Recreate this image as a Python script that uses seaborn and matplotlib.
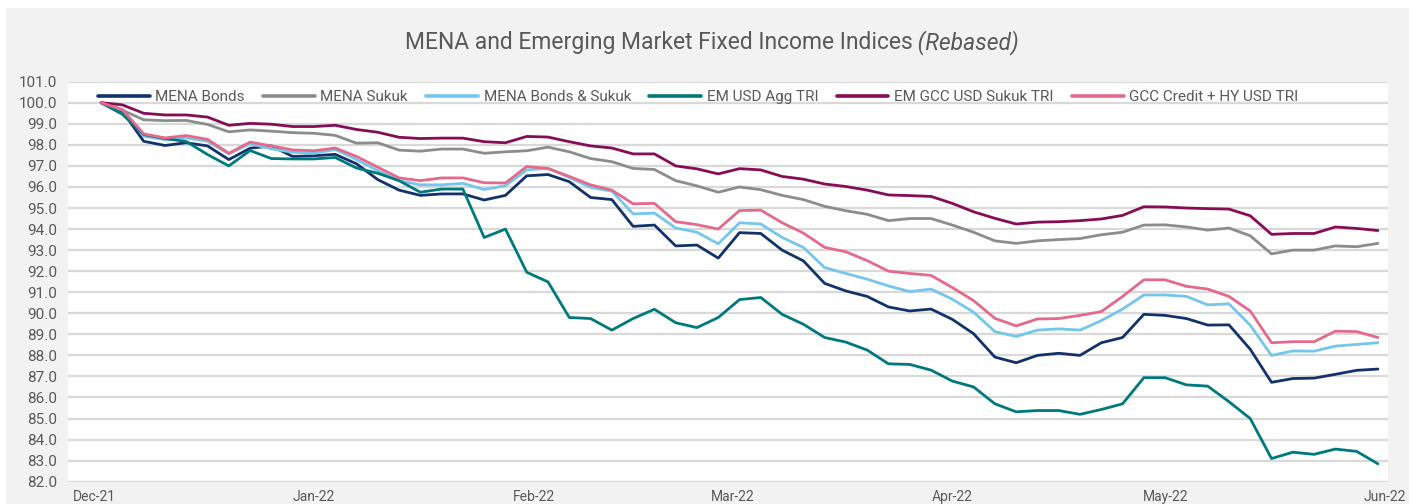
import numpy as np
import pandas as pd
import matplotlib
matplotlib.use("Agg")
import matplotlib.pyplot as plt
import matplotlib.dates as mdates
from matplotlib.lines import Line2D
from matplotlib.patches import Rectangle
import seaborn as sns

# ------------------------------------------------------------
# Data (rebased to 100, every third day)
# ------------------------------------------------------------
dates = pd.date_range("2021-12-02", "2022-05-31", freq="3D")

series_names = ["MENA Bonds", "MENA Sukuk", "MENA Bonds & Sukuk",
                "EM USD Agg TRI", "EM GCC USD Sukuk TRI", "GCC Credit + HY USD TRI"]

mena_bonds = [100.0, 99.6, 98.17, 97.97, 98.1, 97.95, 97.3, 97.84, 97.95, 97.45,
              97.48, 97.55, 97.1, 96.35, 95.85, 95.6, 95.67, 95.67, 95.38, 95.6,
              96.53, 96.59, 96.25, 95.5, 95.4, 94.13, 94.19, 93.2, 93.24, 92.62,
              93.83, 93.79, 93.0, 92.49, 91.42, 91.06, 90.8, 90.3, 90.11, 90.2,
              89.71, 89.03, 87.92, 87.65, 88.0, 88.1, 88.0, 88.6, 88.85, 89.95,
              89.9, 89.75, 89.44, 89.45, 88.29, 86.72, 86.9, 86.92, 87.1, 87.29,
              87.35]

mena_sukuk = [100.0, 99.65, 99.19, 99.15, 99.16, 98.97, 98.62, 98.71, 98.65, 98.58,
              98.55, 98.45, 98.08, 98.1, 97.75, 97.7, 97.8, 97.8, 97.6, 97.67,
              97.72, 97.89, 97.67, 97.35, 97.2, 96.88, 96.83, 96.3, 96.05, 95.75,
              96.0, 95.87, 95.6, 95.4, 95.08, 94.87, 94.7, 94.4, 94.5, 94.5,
              94.19, 93.85, 93.44, 93.32, 93.44, 93.5, 93.55, 93.73, 93.85, 94.19,
              94.2, 94.1, 93.95, 94.05, 93.68, 92.82, 93.0, 93.0, 93.2, 93.16,
              93.32]

mena_bonds_sukuk = [100.0, 99.66, 98.41, 98.25, 98.33, 98.17, 97.57, 98.05, 97.81, 97.65,
                    97.6, 97.78, 97.3, 96.78, 96.3, 96.1, 96.1, 96.17, 95.88, 96.06,
                    96.81, 96.88, 96.45, 95.98, 95.8, 94.72, 94.76, 94.05, 93.85, 93.3,
                    94.3, 94.24, 93.6, 93.13, 92.17, 91.89, 91.62, 91.3, 91.03, 91.15,
                    90.67, 90.05, 89.13, 88.9, 89.2, 89.26, 89.2, 89.65, 90.2, 90.87,
                    90.87, 90.8, 90.4, 90.45, 89.43, 88.0, 88.21, 88.2, 88.44, 88.52,
                    88.6]

em_usd_agg = [100.0, 99.45, 98.49, 98.3, 98.16, 97.54, 97.0, 97.73, 97.35, 97.33,
              97.33, 97.4, 96.9, 96.65, 96.3, 95.75, 95.9, 95.9, 93.6, 94.0,
              91.95, 91.49, 89.8, 89.75, 89.2, 89.75, 90.19, 89.55, 89.32, 89.8,
              90.65, 90.75, 89.95, 89.48, 88.85, 88.63, 88.25, 87.6, 87.57, 87.3,
              86.78, 86.5, 85.7, 85.32, 85.38, 85.38, 85.2, 85.43, 85.7, 86.94,
              86.94, 86.6, 86.54, 85.8, 85.0, 83.1, 83.4, 83.3, 83.55, 83.44,
              82.85]

em_gcc_sukuk = [100.0, 99.9, 99.5, 99.42, 99.42, 99.32, 98.93, 99.02, 98.98, 98.87,
                98.87, 98.93, 98.73, 98.6, 98.36, 98.3, 98.32, 98.32, 98.15, 98.1,
                98.4, 98.37, 98.15, 97.95, 97.85, 97.57, 97.57, 97.0, 96.86, 96.62,
                96.87, 96.81, 96.5, 96.37, 96.14, 96.02, 95.85, 95.62, 95.59, 95.55,
                95.22, 94.82, 94.51, 94.24, 94.33, 94.35, 94.4, 94.48, 94.65, 95.06,
                95.05, 95.0, 94.97, 94.95, 94.63, 93.75, 93.79, 93.79, 94.1, 94.03,
                93.93]

gcc_credit_hy = [100.0, 99.68, 98.52, 98.33, 98.44, 98.26, 97.6, 98.13, 97.95, 97.76,
                 97.72, 97.85, 97.45, 96.94, 96.43, 96.3, 96.43, 96.43, 96.2, 96.19,
                 96.97, 96.88, 96.5, 96.1, 95.85, 95.2, 95.22, 94.35, 94.21, 94.0,
                 94.88, 94.9, 94.3, 93.81, 93.13, 92.92, 92.5, 92.0, 91.89, 91.8,
                 91.22, 90.6, 89.76, 89.4, 89.73, 89.75, 89.9, 90.08, 90.8, 91.59,
                 91.59, 91.28, 91.15, 90.8, 90.11, 88.6, 88.65, 88.65, 89.15, 89.13,
                 88.85]

line_colors = ["#12326b", "#8c8c8c", "#74c6ec", "#00797e", "#870c55", "#e5698b"]

df = pd.DataFrame({"date": dates,
                   series_names[0]: mena_bonds,
                   series_names[1]: mena_sukuk,
                   series_names[2]: mena_bonds_sukuk,
                   series_names[3]: em_usd_agg,
                   series_names[4]: em_gcc_sukuk,
                   series_names[5]: gcc_credit_hy})
df_long = df.melt(id_vars="date", var_name="series", value_name="value")

# ------------------------------------------------------------
# Style
# ------------------------------------------------------------
sns.set_theme(style="white")
plt.rcParams['font.family'] = ['Roboto', 'DejaVu Sans']
text_grey = "#595959"

W, H = 1409, 504
fig = plt.figure(figsize=(W / 100, H / 100), dpi=100, facecolor="white")
# grey chart area (white slivers at top / left as in the screenshot)
fig.patches.append(Rectangle((6 / W, 0), 1, (H - 8) / H, transform=fig.transFigure,
                             facecolor="#f2f2f2", edgecolor="none", zorder=-10))

ax = fig.add_axes([68 / W, 22.3 / H, 1320 / W, 400 / H])
ax.set_facecolor("white")

sns.lineplot(data=df_long, x="date", y="value", hue="series", hue_order=series_names,
             palette=dict(zip(series_names, line_colors)), linewidth=2.0,
             legend=False, ax=ax)

ax.set_ylim(82, 101)
ax.set_yticks(np.arange(82, 101.5, 1))
ax.yaxis.set_major_formatter(plt.FuncFormatter(lambda v, p: f"{v:.1f}"))
ax.set_xlim(pd.Timestamp("2021-12-01") - pd.Timedelta(days=3.67),
            pd.Timestamp("2022-06-01") + pd.Timedelta(days=0.42))
ax.xaxis.set_major_locator(mdates.MonthLocator())
ax.xaxis.set_major_formatter(mdates.DateFormatter("%b-%y"))

ax.grid(axis="y", color="#d9d9d9", linewidth=1.6)
ax.grid(axis="x", visible=False)
ax.set_axisbelow(True)
for s in ax.spines.values():
    s.set_visible(False)
ax.tick_params(axis="y", length=0, pad=8, labelsize=11, labelcolor=text_grey)
ax.tick_params(axis="x", length=0, pad=6, labelsize=10, labelcolor=text_grey)
ax.set_xlabel("")
ax.set_ylabel("")

# legend across the top of the plot area
handles = [Line2D([0], [0], color=c, linewidth=2.6) for c in line_colors]
ax.legend(handles, series_names, loc="center left", bbox_to_anchor=(30 / 1320, 0.962),
          ncol=6, frameon=False, fontsize=11, labelcolor=text_grey,
          handlelength=3.4, handletextpad=0.35, columnspacing=1.2,
          borderpad=0, borderaxespad=0)

# title: regular part + italic "(Rebased)"
renderer = fig.canvas.get_renderer()
t1 = fig.text(0, 1 - 43 / H, "MENA and Emerging Market Fixed Income Indices",
              fontsize=16.5, color=text_grey, va="center", ha="left")
t2 = fig.text(0, 1 - 43 / H, " (Rebased)", fontsize=16.5, style="italic",
              color=text_grey, va="center", ha="left")
w1 = t1.get_window_extent(renderer).width
w2 = t2.get_window_extent(renderer).width
x0 = 712 - (w1 + w2) / 2
t1.set_x(x0 / W)
t2.set_x((x0 + w1) / W)

fig.savefig("out.png", dpi=100, facecolor=fig.get_facecolor())
